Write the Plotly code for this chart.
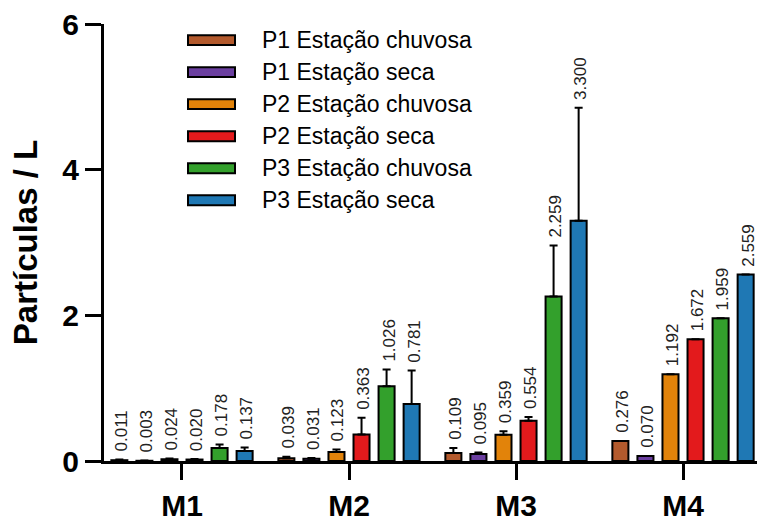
import plotly.graph_objects as go

# ---------------- data ----------------
categories = ["M1", "M2", "M3", "M4"]
series_names = ["P1 Estação chuvosa", "P1 Estação seca", "P2 Estação chuvosa",
                "P2 Estação seca", "P3 Estação chuvosa", "P3 Estação seca"]
series_colors = ["#B35A2D", "#6B3FA0", "#E2830A", "#E31A1C", "#33A02C", "#1F78B4"]

p1_chuvosa = [0.011, 0.039, 0.109, 0.276]
p1_seca = [0.003, 0.031, 0.095, 0.070]
p2_chuvosa = [0.024, 0.123, 0.359, 1.192]
p2_seca = [0.020, 0.363, 0.554, 1.672]
p3_chuvosa = [0.178, 1.026, 2.259, 1.959]
p3_seca = [0.137, 0.781, 3.300, 2.559]

err_p1_chuvosa = [0.008, 0.020, 0.070, 0.0]
err_p1_seca = [0.003, 0.010, 0.020, 0.0]
err_p2_chuvosa = [0.010, 0.035, 0.050, 0.0]
err_p2_seca = [0.006, 0.230, 0.050, 0.0]
err_p3_chuvosa = [0.050, 0.230, 0.700, 0.0]
err_p3_seca = [0.050, 0.460, 1.550, 0.0]

y_ticks = [0, 2, 4, 6]
y_title = "Partículas / L"

series_values = [p1_chuvosa, p1_seca, p2_chuvosa, p2_seca, p3_chuvosa, p3_seca]
series_errors = [err_p1_chuvosa, err_p1_seca, err_p2_chuvosa, err_p2_seca,
                 err_p3_chuvosa, err_p3_seca]

# ---------------- layout constants ----------------
W, H = 757, 522
ML, MR, MT, MB = 104, 0, 24, 57
PW, PH = W - ML - MR, H - MT - MB
BARGAP = 0.1
BARGROUPGAP = 0.36
FONT = "Liberation Sans, Arial, sans-serif"

x_pos = list(range(len(categories)))

fig = go.Figure()
for name, color, vals, errs in zip(series_names, series_colors, series_values, series_errors):
    fig.add_trace(go.Bar(
        x=x_pos, y=vals, name=name, showlegend=False,
        marker=dict(color=color, line=dict(color="black", width=2)),
        error_y=dict(type="data", symmetric=False, array=errs,
                     arrayminus=[0] * len(errs), color="black",
                     thickness=2, width=4),
    ))

# value labels above each bar (rotated)
n = len(series_names)
slot = (1 - BARGAP) / n
annotations = []
for j, (vals, errs) in enumerate(zip(series_values, series_errors)):
    off = -(1 - BARGAP) / 2 + slot * (j + 0.5)
    for i, (v, e) in enumerate(zip(vals, errs)):
        annotations.append(dict(
            x=i + off, y=v + e, xref="x", yref="y",
            text=f"{v:.3f}", showarrow=False, textangle=-90,
            xanchor="center", yanchor="bottom", yshift=6, xshift=2,
            font=dict(family=FONT, size=17, color="#222222"),
        ))

# manual legend (wide patches like the original)
def px_x(p):
    return (p - ML) / PW

def px_y(p):
    return (H - MB - p) / PH

shapes = []
row0, row_step = 40.3, 32.3
for k, (name, color) in enumerate(zip(series_names, series_colors)):
    cy = row0 + k * row_step
    shapes.append(dict(type="rect", xref="paper", yref="paper",
                       x0=px_x(188), x1=px_x(235), y0=px_y(cy + 5), y1=px_y(cy - 5),
                       fillcolor=color, line=dict(color="black", width=2)))
    annotations.append(dict(x=px_x(260), y=px_y(cy), xref="paper", yref="paper",
                            text=name, showarrow=False, xanchor="left", yanchor="middle",
                            font=dict(family=FONT, size=23, color="black")))

fig.update_layout(
    width=W, height=H,
    margin=dict(l=ML, r=MR, t=MT, b=MB, pad=0),
    paper_bgcolor="white", plot_bgcolor="white",
    barmode="group", bargap=BARGAP, bargroupgap=BARGROUPGAP,
    showlegend=False,
    annotations=annotations, shapes=shapes,
    font=dict(family=FONT, color="black"),
)
fig.update_xaxes(
    range=[-0.467, 3.443], tickvals=x_pos, ticktext=categories,
    showline=True, linecolor="black", linewidth=3,
    ticks="outside", ticklen=16, tickwidth=3, tickcolor="black",
    showgrid=False, zeroline=False,
    tickfont=dict(family=FONT, size=30, color="black", weight="bold"),
)
fig.update_yaxes(
    range=[0, 6], tickvals=y_ticks,
    showline=True, linecolor="black", linewidth=3,
    ticks="outside", ticklen=16, tickwidth=3, tickcolor="black",
    showgrid=False, zeroline=False,
    tickfont=dict(family=FONT, size=30, color="black", weight="bold"),
    title=dict(text=y_title, standoff=15,
               font=dict(family=FONT, size=33, color="black", weight="bold")),
)

fig.write_html(
    "out.html",
    config={"displayModeBar": False},
    post_script="document.body.style.margin='0px';document.body.style.overflow='hidden';",
)
